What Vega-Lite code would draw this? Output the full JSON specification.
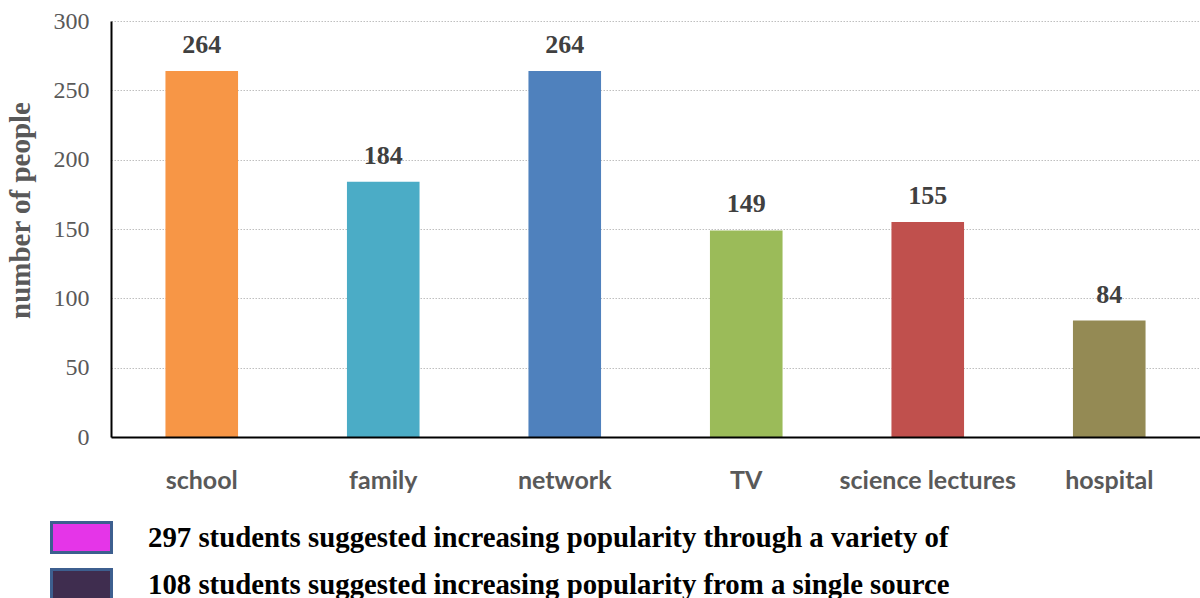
{
  "$schema": "https://vega.github.io/schema/vega-lite/v6.json",
  "width": 1089,
  "height": 416,
  "autosize": {"type": "none"},
  "padding": {"left": 111, "top": 21, "right": 0, "bottom": 161},
  "background": "white",
  "config": {"view": {"stroke": null}},
  "datasets": {
    "bars": [
      {"source": "school", "people": 264},
      {"source": "family", "people": 184},
      {"source": "network", "people": 264},
      {"source": "TV", "people": 149},
      {"source": "science lectures", "people": 155},
      {"source": "hospital", "people": 84}
    ],
    "legendItems": [
      {"item": "297 students suggested increasing popularity through a variety of"},
      {"item": "108 students suggested increasing popularity from a single source"}
    ]
  },
  "layer": [
    {
      "data": {"name": "bars"},
      "mark": {"type": "bar"},
      "encoding": {
        "x": {
          "field": "source", "type": "nominal", "sort": null,
          "scale": {"paddingInner": 0.6, "paddingOuter": 0.3},
          "axis": {
            "title": null, "labelAngle": 0, "ticks": false, "zindex": 2,
            "domainColor": "#000000", "domainWidth": 2,
            "labelFont": "Lato", "labelFontWeight": "bold", "labelFontSize": 25,
            "labelColor": "#595959", "labelPadding": 31
          }
        },
        "y": {
          "field": "people", "type": "quantitative",
          "scale": {"domain": [0, 300]},
          "axis": {
            "title": "number of people", "values": [0, 50, 100, 150, 200, 250, 300],
            "ticks": false, "domainColor": "#000000", "domainWidth": 2,
            "gridColor": "#bfbfbf", "gridDash": [1.5, 1.5], "gridWidth": 1,
            "labelFont": "Liberation Serif", "labelFontSize": 24, "labelColor": "#595959",
            "labelPadding": 22,
            "titleFont": "Liberation Serif", "titleFontSize": 29, "titleFontWeight": "bold",
            "titleColor": "#595959", "titlePadding": 18, "titleY": 189
          }
        },
        "color": {
          "field": "source", "type": "nominal", "sort": null,
          "scale": {
            "domain": ["school", "family", "network", "TV", "science lectures", "hospital"],
            "range": ["#F79646", "#4BACC6", "#4F81BD", "#9BBB59", "#C0504D", "#948A54"]
          },
          "legend": null
        }
      }
    },
    {
      "data": {"name": "bars"},
      "mark": {"type": "text", "font": "Liberation Serif", "fontWeight": "bold", "fontSize": 26, "color": "#404040", "baseline": "bottom", "dy": -13},
      "encoding": {
        "x": {"field": "source", "type": "nominal", "sort": null},
        "y": {"field": "people", "type": "quantitative"},
        "text": {"field": "people", "type": "quantitative"}
      }
    },
    {
      "data": {"name": "legendItems"},
      "mark": {"type": "point", "filled": true, "opacity": 0, "size": 0},
      "encoding": {
        "fill": {
          "field": "item", "type": "nominal", "sort": null,
          "scale": {
            "domain": ["297 students suggested increasing popularity through a variety of", "108 students suggested increasing popularity from a single source"],
            "range": ["#E535E8", "#3F2D4F"]
          },
          "legend": {
            "title": null, "orient": "none", "legendX": -46, "legendY": 500,
            "symbolType": "M-2,-1H2V1H-2Z", "symbolSize": 900,
            "symbolStrokeColor": "#3D5F8F", "symbolStrokeWidth": 3, "symbolOpacity": 1,
            "labelFont": "Liberation Serif", "labelFontWeight": "bold", "labelFontSize": 28.8,
            "labelColor": "#000000", "labelLimit": 2000, "labelOffset": 50,
            "rowPadding": 4, "padding": 0
          }
        }
      }
    }
  ],
  "resolve": {"scale": {"color": "independent", "fill": "independent"}}
}
